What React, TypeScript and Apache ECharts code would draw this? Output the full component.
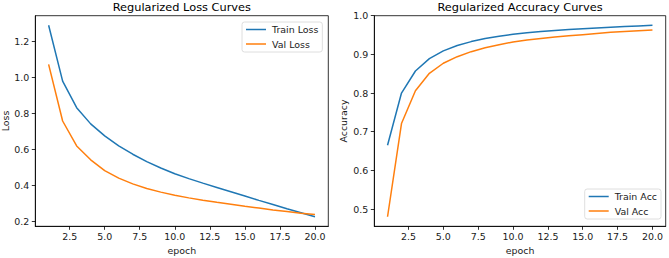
import { useEffect, useRef } from "react";
import * as echarts from "echarts";

const epochs = [1, 2, 3, 4, 5, 6, 7, 8, 9, 10, 11, 12, 13, 14, 15, 16, 17, 18, 19, 20];
const trainLoss = [1.29, 0.979, 0.831, 0.741, 0.674, 0.618, 0.572, 0.531, 0.495, 0.463, 0.436, 0.411, 0.387, 0.363, 0.339, 0.315, 0.292, 0.268, 0.246, 0.224];
const valLoss = [1.072, 0.757, 0.618, 0.541, 0.481, 0.439, 0.407, 0.381, 0.361, 0.344, 0.329, 0.316, 0.304, 0.293, 0.282, 0.272, 0.262, 0.253, 0.244, 0.236];
const trainAcc = [0.665, 0.8, 0.857, 0.889, 0.909, 0.923, 0.933, 0.941, 0.947, 0.952, 0.956, 0.959, 0.962, 0.964, 0.966, 0.968, 0.97, 0.972, 0.9735, 0.975];
const valAcc = [0.48, 0.721, 0.806, 0.851, 0.877, 0.894, 0.907, 0.917, 0.925, 0.932, 0.937, 0.941, 0.945, 0.948, 0.951, 0.954, 0.957, 0.959, 0.961, 0.963];
const xTicks = [2.5, 5, 7.5, 10, 12.5, 15, 17.5, 20];
const lossTicks = [0.2, 0.4, 0.6, 0.8, 1.0, 1.2];
const accTicks = [0.5, 0.6, 0.7, 0.8, 0.9, 1.0];

const FONT = "DejaVu Sans";
const TXT = "#1a1a1a";
const BLUE = "#1f77b4";
const ORANGE = "#ff7f0e";

function xAxisCfg(gridIndex: number) {
  return {
    type: "value",
    gridIndex,
    min: 0.05,
    max: 20.95,
    name: "epoch",
    nameLocation: "middle",
    nameGap: 19,
    nameTextStyle: { fontSize: 9.45, color: TXT, fontFamily: FONT },
    axisLine: { show: true, lineStyle: { color: "#000", width: 0.8 } },
    splitLine: { show: false },
    axisTick: { show: true, customValues: xTicks, length: 3.5, lineStyle: { color: "#000", width: 0.8 } },
    axisLabel: {
      customValues: xTicks,
      formatter: (v: number) => v.toFixed(1),
      fontSize: 9.45,
      color: TXT,
      fontFamily: FONT,
      margin: 6,
    },
  };
}

function yAxisCfg(gridIndex: number, name: string, min: number, max: number, ticks: number[], gap: number) {
  return {
    type: "value",
    gridIndex,
    min,
    max,
    name,
    nameLocation: "middle",
    nameGap: gap,
    nameTextStyle: { fontSize: 9.45, color: TXT, fontFamily: FONT },
    axisLine: { show: true, lineStyle: { color: "#000", width: 0.8 } },
    splitLine: { show: false },
    axisTick: { show: true, customValues: ticks, length: 3.5, lineStyle: { color: "#000", width: 0.8 } },
    axisLabel: {
      customValues: ticks,
      formatter: (v: number) => v.toFixed(1),
      fontSize: 9.45,
      color: TXT,
      fontFamily: FONT,
      margin: 6,
    },
  };
}

function lineSeries(name: string, values: number[], color: string, idx: number) {
  return {
    type: "line",
    name,
    xAxisIndex: idx,
    yAxisIndex: idx,
    data: epochs.map((e, i) => [e, values[i]]),
    showSymbol: false,
    symbol: "none",
    lineStyle: { color, width: 1.5 },
    itemStyle: { color },
    emphasis: { disabled: true },
  };
}

function legendCfg(names: string[], left: number, top: number) {
  return {
    data: names,
    orient: "vertical",
    left,
    top,
    icon: "rect",
    itemWidth: 20,
    itemHeight: 1.5,
    itemGap: 5.5,
    padding: [3, 4, 3.5, 4],
    borderColor: "#d6d6d6",
    borderWidth: 0.8,
    borderRadius: 2.5,
    backgroundColor: "rgba(255,255,255,0.8)",
    textStyle: { fontSize: 9.45, color: TXT, fontFamily: FONT, padding: [0, 0, 0, 1] },
    selectedMode: false,
  };
}

export default function App() {
  const ref = useRef<HTMLDivElement>(null);
  useEffect(() => {
    if (!ref.current) return;
    const chart = echarts.init(ref.current, null, { renderer: "svg" });
    chart.setOption({
      animation: false,
      backgroundColor: "#ffffff",
      textStyle: { fontFamily: FONT },
      title: [
        {
          text: "Regularized Loss Curves",
          left: 181.8,
          top: 1,
          textAlign: "center",
          padding: 0,
          textStyle: { fontSize: 11.35, fontWeight: "normal", color: "#000", fontFamily: FONT },
        },
        {
          text: "Regularized Accuracy Curves",
          left: 520,
          top: 1,
          textAlign: "center",
          padding: 0,
          textStyle: { fontSize: 11.35, fontWeight: "normal", color: "#000", fontFamily: FONT },
        },
      ],
      grid: [
        { left: 35.3, right: 340.7, top: 15.7, bottom: 31.7, show: true, borderColor: "#000", borderWidth: 0.8, backgroundColor: "transparent", containLabel: false, outerBoundsMode: "none" },
        { left: 374.3, right: 3.3, top: 15.7, bottom: 31.7, show: true, borderColor: "#000", borderWidth: 0.8, backgroundColor: "transparent", containLabel: false, outerBoundsMode: "none" },
      ],
      xAxis: [xAxisCfg(0), xAxisCfg(1)],
      yAxis: [
        yAxisCfg(0, "Loss", 0.1707, 1.3433, lossTicks, 21.5),
        yAxisCfg(1, "Accuracy", 0.4553, 1.0, accTicks, 26.5),
      ],
      legend: [
        legendCfg(["Train Loss", "Val Loss"], 242, 22),
        legendCfg(["Train Acc", "Val Acc"], 584.7, 189),
      ],
      tooltip: { show: false },
      series: [
        lineSeries("Train Loss", trainLoss, BLUE, 0),
        lineSeries("Val Loss", valLoss, ORANGE, 0),
        lineSeries("Train Acc", trainAcc, BLUE, 1),
        lineSeries("Val Acc", valAcc, ORANGE, 1),
      ],
    });
    return () => chart.dispose();
  }, []);
  return <div ref={ref} style={{ position: "absolute", left: 0, top: 0, width: 669, height: 258 }} />;
}
